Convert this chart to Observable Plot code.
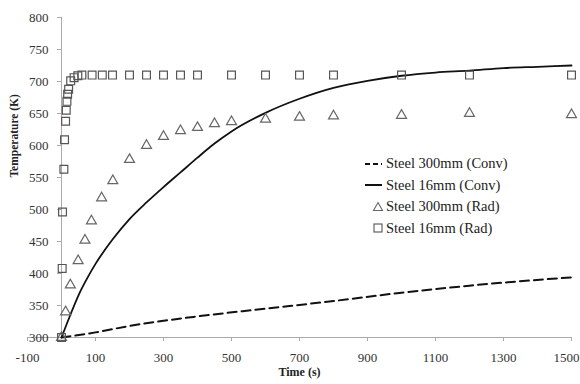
<!DOCTYPE html>
<html><head><meta charset="utf-8">
<script src="https://cdn.jsdelivr.net/npm/d3@7"></script>
<script src="https://cdn.jsdelivr.net/npm/@observablehq/plot@0.6"></script>
<style>
body{margin:0;background:#fff}
#wrap{position:relative;width:580px;height:384px}
#legend{position:absolute;left:362px;top:153px;font-family:"Liberation Serif",serif;font-size:14.5px;color:#222}
.row{display:flex;align-items:center;height:21.5px;white-space:nowrap}
.row svg{width:22px;height:14px;margin-right:2px}
</style></head><body><div id="wrap"><div id="legend"></div></div>
<script>
// Steel 300mm (Conv) - dashed line
const conv300T = [0, 100, 200, 400, 600, 800, 1000, 1200, 1500];
const conv300V = [300, 308, 318, 333, 345, 357, 370, 381, 394];
// Steel 16mm (Conv) - solid line
const conv16T = [0, 25, 50, 75, 100, 150, 200, 250, 300, 350, 400, 450, 500, 600, 700, 800, 900, 1000, 1100, 1200, 1300, 1400, 1500];
const conv16V = [300, 334, 366, 392, 415, 453, 485, 511, 535, 558, 581, 603, 622, 651, 673, 690, 701, 709, 714, 717, 721, 723, 725];
// Steel 300mm (Rad) - triangles
const rad300T = [0, 12, 26, 49, 69, 88, 118, 151, 200, 250, 300, 350, 400, 450, 500, 600, 700, 800, 1000, 1200, 1500];
const rad300V = [300, 340, 382, 420, 452, 482, 518, 545, 578, 600, 614, 623, 628, 634, 637, 641, 644, 646, 647, 650, 648];
// Steel 16mm (Rad) - squares
const rad16T = [0, 2, 3, 7, 9, 12, 14, 16, 18, 21, 27, 37, 48, 60, 90, 120, 150, 200, 250, 300, 350, 400, 500, 600, 700, 800, 1000, 1200, 1500];
const rad16V = [300, 408, 496, 563, 609, 638, 655, 669, 680, 688, 701, 706, 709, 710, 710, 710, 710, 710, 710, 710, 710, 710, 710, 710, 710, 710, 710, 710, 710];

const xTicks = [-100, 100, 300, 500, 700, 900, 1100, 1300, 1500];
const yTicks = [300, 350, 400, 450, 500, 550, 600, 650, 700, 750, 800];
const seriesNames = ["Steel 300mm (Conv)", "Steel 16mm (Conv)", "Steel 300mm (Rad)", "Steel 16mm (Rad)"];

const zip = (T, V) => T.map((t, i) => ({t, v: V[i]}));
const conv300 = zip(conv300T, conv300V);
const conv16 = zip(conv16T, conv16V);
const rad300 = zip(rad300T, rad300V);
const rad16 = zip(rad16T, rad16V);
const lastX = xTicks[xTicks.length - 1];

const chart = Plot.plot({
  width: 580, height: 384,
  marginLeft: 27, marginRight: 9, marginTop: 17, marginBottom: 47,
  style: {fontFamily: "Liberation Serif, serif", fontSize: "13px", color: "#333", background: "#fff"},
  x: {domain: [-100, 1500], axis: null},
  y: {domain: [300, 800], axis: null},
  marks: [
    Plot.ruleY([300], {stroke: "#aaa"}),
    Plot.ruleX([0], {y1: 300, y2: 800, stroke: "#aaa"}),
    Plot.ruleX(xTicks, {x: d => d, y1: 300, y2: 300, insetBottom: -4, stroke: "#aaa"}),
    Plot.text(xTicks.filter(d => d !== lastX), {x: d => d, y: 300, text: d => String(d), dy: 20, fill: "#333", fontSize: 13}),
    Plot.text([lastX], {x: d => d, y: 300, text: d => String(d), dy: 20, dx: 8, textAnchor: "end", fill: "#333", fontSize: 13}),
    Plot.ruleY(yTicks, {y: d => d, x1: 0, x2: 0, insetLeft: -4, stroke: "#aaa"}),
    Plot.text(yTicks, {x: 0, y: d => d, text: d => String(d), dx: -13, textAnchor: "end", fill: "#333", fontSize: 13}),
    Plot.line(conv300, {x: "t", y: "v", stroke: "#111", strokeWidth: 2, strokeDasharray: "9,5", curve: "monotone-x"}),
    Plot.line(conv16, {x: "t", y: "v", stroke: "#111", strokeWidth: 1.8, curve: "monotone-x"}),
    Plot.dot(rad300, {x: "t", y: "v", symbol: "triangle", r: 3.7, stroke: "#666", strokeWidth: 1.2, fill: "none"}),
    Plot.dot(rad16, {x: "t", y: "v", symbol: "square", r: 4.4, stroke: "#555", strokeWidth: 1.2, fill: "none"}),
    Plot.text(["Time (s)"], {frameAnchor: "bottom", dy: 38, fontWeight: "bold", fontSize: 12, fill: "#222"}),
    Plot.text(["Temperature (K)"], {frameAnchor: "left", dx: -13, rotate: -90, fontWeight: "bold", fontSize: 11.5, fill: "#222"})
  ]
});
document.getElementById("wrap").prepend(chart);

const legendSyms = [
  '<line x1="3" y1="7" x2="20" y2="7" stroke="#111" stroke-width="2" stroke-dasharray="5,3"/>',
  '<line x1="3" y1="7" x2="20" y2="7" stroke="#111" stroke-width="2"/>',
  '<path d="M16,2.5 L20.5,10.5 L11.5,10.5 Z" fill="none" stroke="#666" stroke-width="1.1"/>',
  '<rect x="12" y="3" width="8" height="8" fill="none" stroke="#555" stroke-width="1.1"/>'
];
const legend = document.getElementById("legend");
seriesNames.forEach((name, i) => {
  const row = document.createElement("div");
  row.className = "row";
  row.innerHTML = '<svg viewBox="0 0 22 14">' + legendSyms[i] + '</svg><span>' + name + '</span>';
  legend.appendChild(row);
});
</script></body></html>
